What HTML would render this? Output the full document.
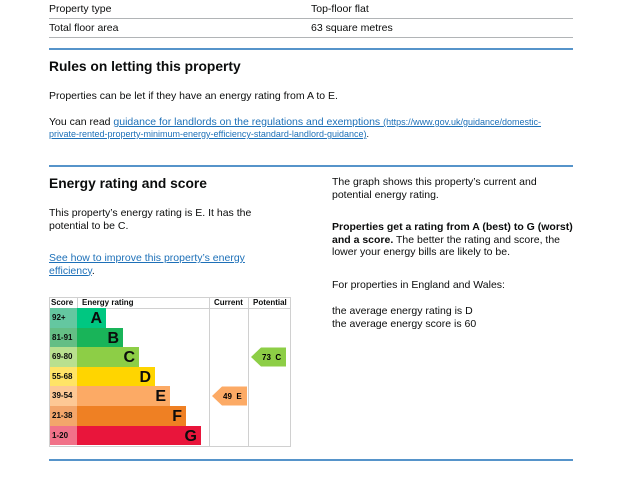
<!DOCTYPE html><html><head><style>
body{margin:0;width:621px;height:480px;background:#fff;font-family:"Liberation Sans",sans-serif;color:#0b0c0c;position:relative;overflow:hidden}
.a{position:absolute;white-space:nowrap}
.t{font-size:10.5px}
.h{font-size:13.8px;font-weight:bold}
.ln{position:absolute;left:49px;width:524px}
a{color:#1d70b8}
.r{position:absolute;height:19.6px;font-weight:bold;font-size:8px;line-height:19.6px}
.b{position:absolute;height:19.6px;font-weight:bold;font-size:16px;line-height:21px;text-align:right;box-sizing:border-box;padding-right:4px}
</style></head><body>
<div class="a t" style="left:49px;top:3px">Property type</div>
<div class="a t" style="left:311px;top:3px">Top-floor flat</div>
<div class="ln" style="top:18px;border-top:1px solid #b1b4b6"></div>
<div class="a t" style="left:49px;top:22px">Total floor area</div>
<div class="a t" style="left:311px;top:22px">63 square metres</div>
<div class="ln" style="top:37px;border-top:1px solid #b1b4b6"></div>
<div class="ln" style="top:48px;border-top:2px solid #5694ca"></div>
<div class="a h" style="left:49px;top:59px">Rules on letting this property</div>
<div class="a t" style="left:49px;top:90px">Properties can be let if they have an energy rating from A to E.</div>
<div class="a t" style="left:49px;top:116px">You can read <a href="#">guidance for landlords on the regulations and exemptions <span style="font-size:9px">(https://www.gov.uk/guidance/domestic-</span></a></div>
<div class="a" style="left:49px;top:129px;font-size:9px"><a href="#">private-rented-property-minimum-energy-efficiency-standard-landlord-guidance)</a>.</div>
<div class="ln" style="top:165px;border-top:2px solid #5694ca"></div>
<div class="a h" style="left:49px;top:176px">Energy rating and score</div>
<div class="a t" style="left:49px;top:207px;line-height:12.5px">This property’s energy rating is E. It has the<br>potential to be C.</div>
<div class="a t" style="left:49px;top:252px;line-height:12.5px"><a href="#">See how to improve this property’s energy<br>efficiency</a>.</div>
<div class="a t" style="left:332px;top:176px;line-height:12.5px">The graph shows this property’s current and<br>potential energy rating.</div>
<div class="a t" style="left:332px;top:221px;line-height:12.5px"><b>Properties get a rating from A (best) to G (worst)<br>and a score.</b> The better the rating and score, the<br>lower your energy bills are likely to be.</div>
<div class="a t" style="left:332px;top:279px">For properties in England and Wales:</div>
<div class="a t" style="left:332px;top:305px;line-height:12.5px">the average energy rating is D<br>the average energy score is 60</div>
<div style="position:absolute;left:49px;top:297px;width:240px;height:148px;border:1px solid #d0d0d0"></div>
<div style="position:absolute;left:49px;top:308px;width:241px;border-top:1px solid #d0d0d0"></div>
<div style="position:absolute;left:77px;top:297px;height:11px;border-left:1px solid #d0d0d0"></div>
<div style="position:absolute;left:209px;top:297px;height:149px;border-left:1px solid #d0d0d0"></div>
<div style="position:absolute;left:248px;top:297px;height:149px;border-left:1px solid #d0d0d0"></div>
<div class="a" style="left:51px;top:298px;font-size:8px;font-weight:bold">Score</div>
<div class="a" style="left:82px;top:298px;font-size:8px;font-weight:bold">Energy rating</div>
<div class="a" style="left:214px;top:298px;font-size:8px;font-weight:bold">Current</div>
<div class="a" style="left:253px;top:298px;font-size:8px;font-weight:bold">Potential</div>
<div class="r" style="left:50px;top:308px;width:27px;background:#64c7a0;padding-left:2px;box-sizing:border-box">92+</div>
<div class="b" style="left:77px;top:308px;width:29px;background:#00c781">A</div>
<div class="r" style="left:50px;top:327.6px;width:27px;background:#64be85;padding-left:2px;box-sizing:border-box">81-91</div>
<div class="b" style="left:77px;top:327.6px;width:46px;background:#19b459">B</div>
<div class="r" style="left:50px;top:347.2px;width:27px;background:#b9e08f;padding-left:2px;box-sizing:border-box">69-80</div>
<div class="b" style="left:77px;top:347.2px;width:62px;background:#8dce46">C</div>
<div class="r" style="left:50px;top:366.8px;width:27px;background:#ffe466;padding-left:2px;box-sizing:border-box">55-68</div>
<div class="b" style="left:77px;top:366.8px;width:78px;background:#ffd500">D</div>
<div class="r" style="left:50px;top:386.4px;width:27px;background:#fdc895;padding-left:2px;box-sizing:border-box">39-54</div>
<div class="b" style="left:77px;top:386.4px;width:93px;background:#fcaa65">E</div>
<div class="r" style="left:50px;top:406px;width:27px;background:#f3a66b;padding-left:2px;box-sizing:border-box">21-38</div>
<div class="b" style="left:77px;top:406px;width:109px;background:#ef8023">F</div>
<div class="r" style="left:50px;top:425.6px;width:27px;background:#f17289;padding-left:2px;box-sizing:border-box">1-20</div>
<div class="b" style="left:77px;top:425.6px;width:124px;background:#e9153b">G</div>
<svg style="position:absolute;left:0;top:0" width="621" height="480">
<polygon points="212,396 222,386.5 247,386.5 247,405.5 222,405.5" fill="#fcaa65"/>
<text x="223" y="399" font-size="8" font-weight="bold" font-family="Liberation Sans" xml:space="preserve">49  E</text>
<polygon points="251,357 261,347.5 286,347.5 286,366.5 261,366.5" fill="#8dce46"/>
<text x="262" y="360" font-size="8" font-weight="bold" font-family="Liberation Sans" xml:space="preserve">73  C</text>
</svg>
<div class="ln" style="top:459px;border-top:2px solid #5694ca"></div>
</body></html>
